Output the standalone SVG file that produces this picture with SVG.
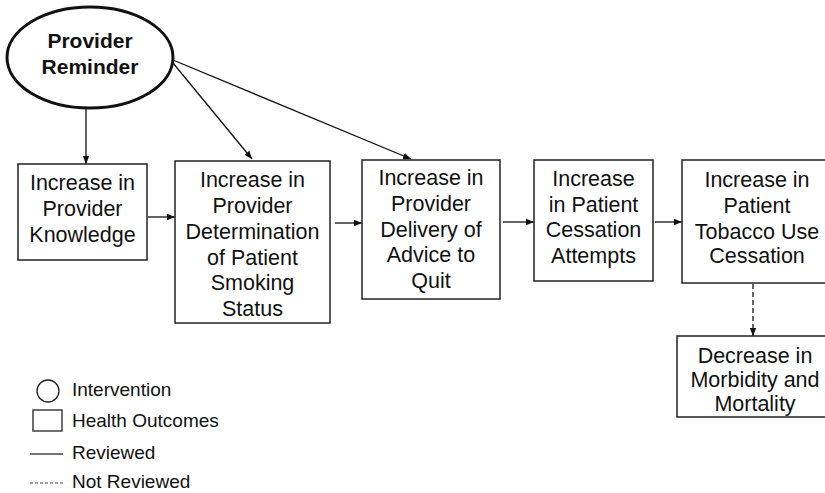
<svg xmlns="http://www.w3.org/2000/svg" width="825" height="493" viewBox="0 0 825 493">
<style>
.box{fill:#fff;stroke:#222;stroke-width:1.5}
.t{font-family:"Liberation Sans",Arial,sans-serif;font-size:21.5px;fill:#111;text-anchor:middle}
.b{font-family:"Liberation Sans",Arial,sans-serif;font-size:21px;font-weight:bold;fill:#111;text-anchor:middle}
.lg{font-family:"Liberation Sans",Arial,sans-serif;font-size:19px;fill:#111}
.c{stroke:#111;stroke-width:1.3;fill:none;marker-end:url(#ah)}
</style>
<defs>
<marker id="ah" markerUnits="userSpaceOnUse" markerWidth="10" markerHeight="8" refX="8" refY="4" orient="auto">
<path d="M0,0.8 L8,4 L0,7.2 Z" fill="#111"/>
</marker>
</defs>
<g id="connectors">
<line class="c" x1="86" y1="109" x2="86" y2="164"/>
<line class="c" x1="173" y1="63" x2="252" y2="159"/>
<line class="c" x1="173" y1="60" x2="411" y2="159"/>
<line class="c" x1="148" y1="217" x2="175" y2="217"/>
<line class="c" x1="335" y1="223" x2="362" y2="223"/>
<line class="c" x1="503" y1="222" x2="534" y2="222"/>
<line class="c" x1="655" y1="222" x2="682" y2="222"/>
<line class="c" x1="753" y1="284" x2="753" y2="336" stroke-dasharray="5,3"/>
</g>
<g id="provider-reminder">
<ellipse cx="90" cy="57.5" rx="83" ry="50.5" fill="#fff" stroke="#111" stroke-width="3"/>
<text class="b" x="90" y="48">Provider</text>
<text class="b" x="90" y="74">Reminder</text>
</g>
<g id="knowledge">
<rect class="box" x="18" y="164" width="129" height="96"/>
<text class="t" x="82.5" y="190">Increase in</text>
<text class="t" x="82.5" y="216">Provider</text>
<text class="t" x="82.5" y="242">Knowledge</text>
</g>
<g id="determination">
<rect class="box" x="175" y="161" width="155" height="162"/>
<text class="t" x="252.5" y="187">Increase in</text>
<text class="t" x="252.5" y="213">Provider</text>
<text class="t" x="252.5" y="239">Determination</text>
<text class="t" x="252.5" y="265">of Patient</text>
<text class="t" x="252.5" y="290">Smoking</text>
<text class="t" x="252.5" y="316">Status</text>
</g>
<g id="advice">
<rect class="box" x="362" y="160" width="138" height="139"/>
<text class="t" x="431" y="185">Increase in</text>
<text class="t" x="431" y="211">Provider</text>
<text class="t" x="431" y="237">Delivery of</text>
<text class="t" x="431" y="262">Advice to</text>
<text class="t" x="431" y="288">Quit</text>
</g>
<g id="attempts">
<rect class="box" x="534" y="160" width="119" height="121"/>
<text class="t" x="593.5" y="186">Increase</text>
<text class="t" x="593.5" y="212">in Patient</text>
<text class="t" x="593.5" y="237">Cessation</text>
<text class="t" x="593.5" y="263">Attempts</text>
</g>
<g id="cessation">
<rect class="box" x="682" y="160" width="160" height="123"/>
<text class="t" x="757" y="187">Increase in</text>
<text class="t" x="757" y="213">Patient</text>
<text class="t" x="757" y="239">Tobacco Use</text>
<text class="t" x="757" y="263">Cessation</text>
</g>
<g id="morbidity">
<rect class="box" x="677" y="336" width="160" height="81"/>
<text class="t" x="755" y="363">Decrease in</text>
<text class="t" x="755" y="387">Morbidity and</text>
<text class="t" x="755" y="411">Mortality</text>
</g>
<g id="legend">
<circle cx="48" cy="391" r="11" fill="none" stroke="#222" stroke-width="1.3"/>
<text class="lg" x="72" y="396">Intervention</text>
<rect x="33" y="410" width="29" height="21" fill="none" stroke="#222" stroke-width="1.3"/>
<text class="lg" x="72" y="427">Health Outcomes</text>
<line x1="30" y1="454" x2="63" y2="454" stroke="#444" stroke-width="1.3"/>
<text class="lg" x="72" y="459">Reviewed</text>
<line x1="30" y1="483" x2="63" y2="483" stroke="#444" stroke-width="1.2" stroke-dasharray="3,2"/>
<text class="lg" x="72" y="488">Not Reviewed</text>
</g>
</svg>
